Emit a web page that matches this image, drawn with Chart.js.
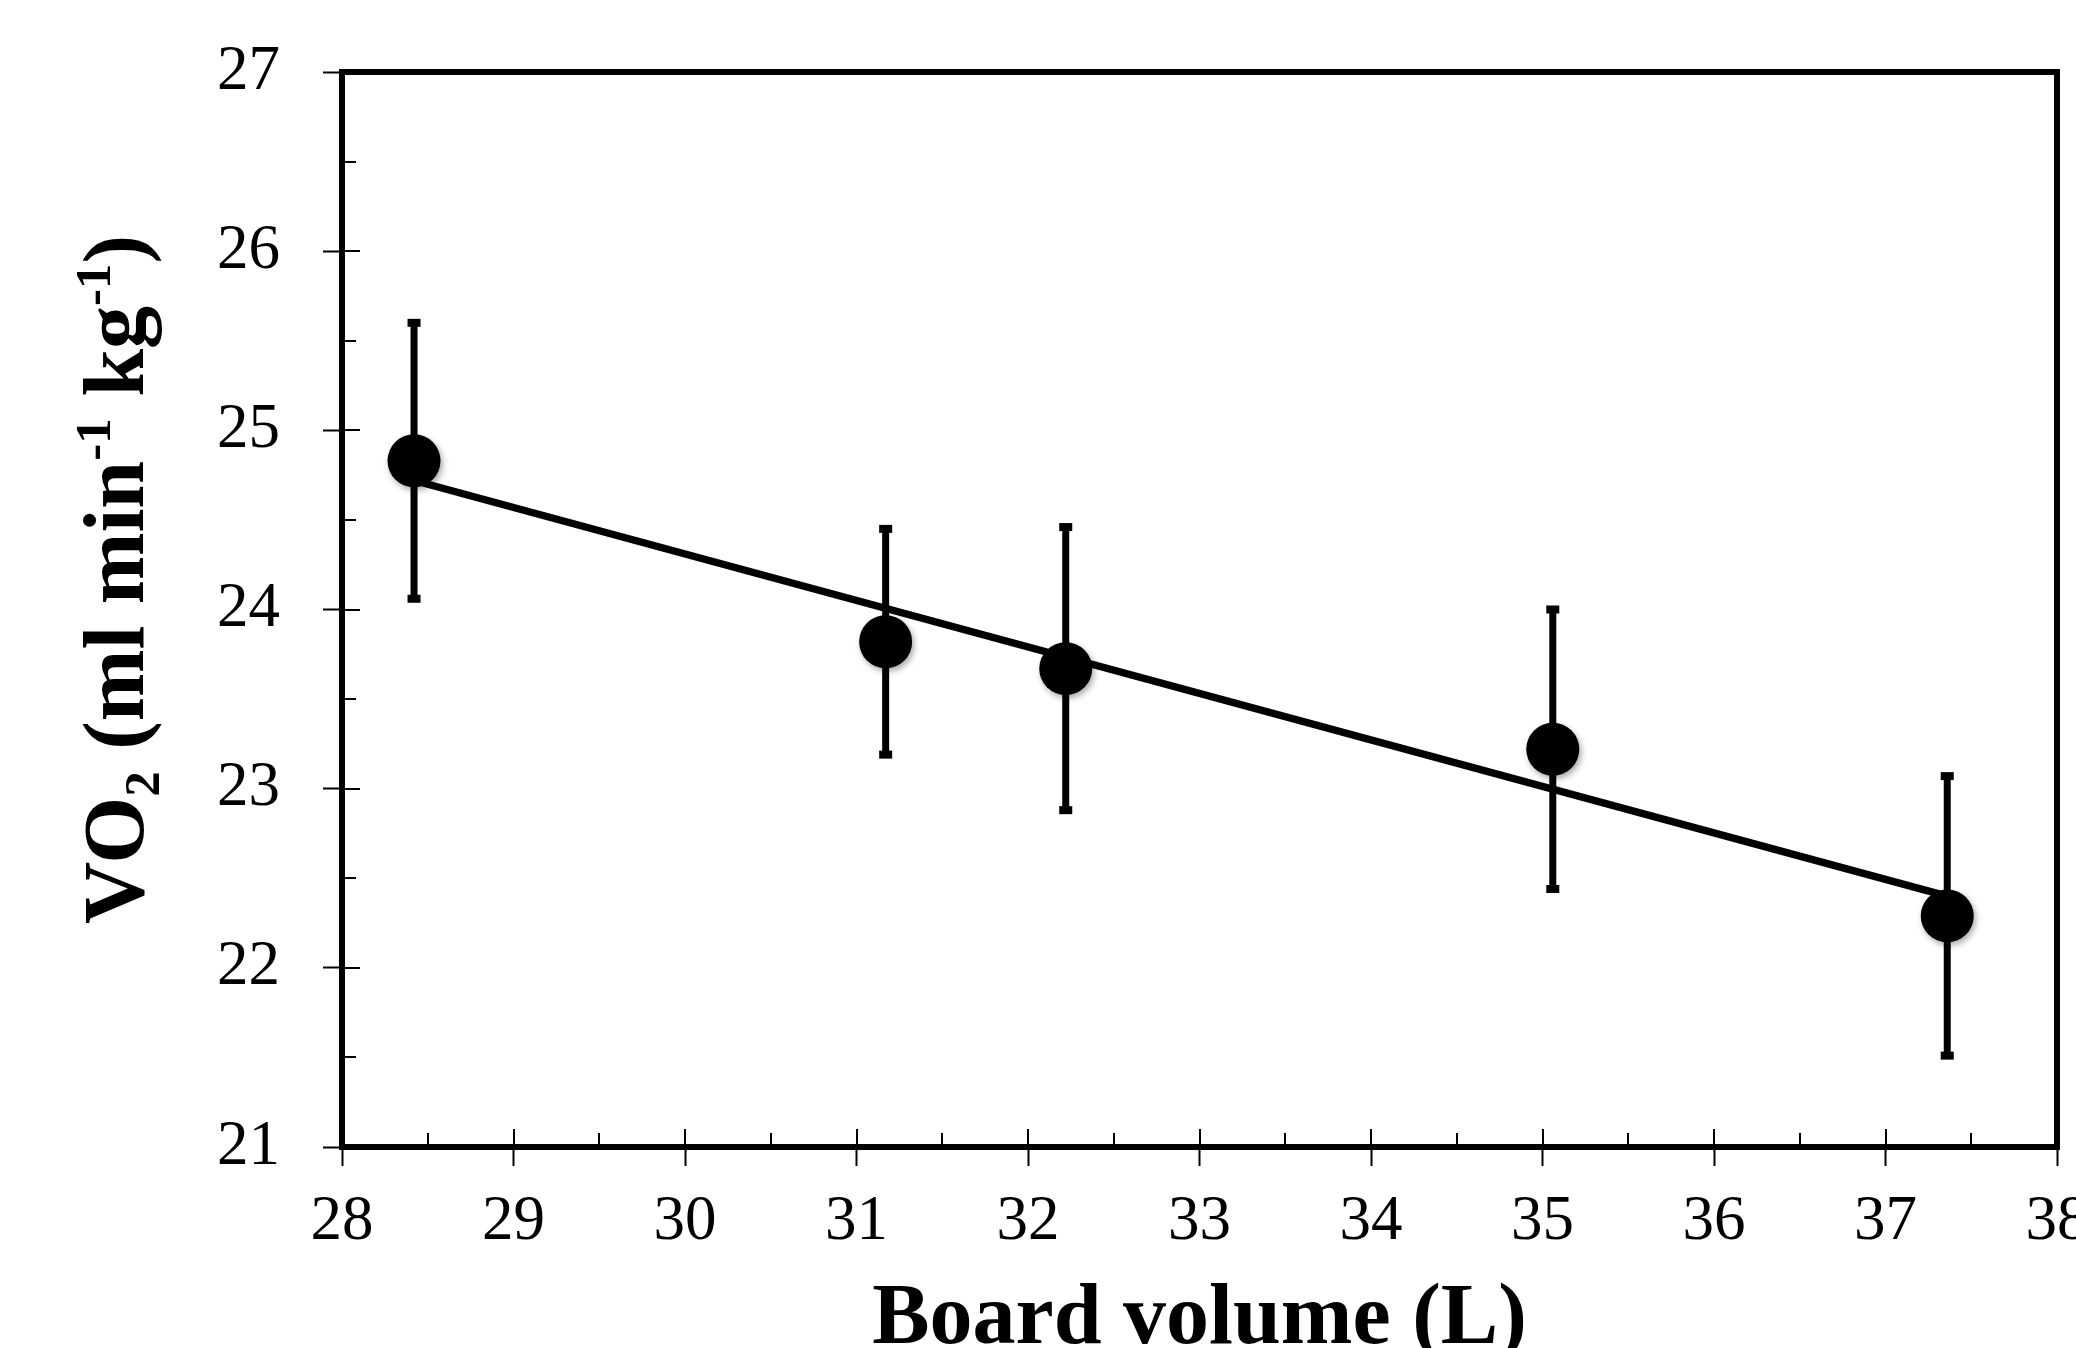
<!DOCTYPE html>
<html>
<head>
<meta charset="utf-8">
<title>VO2 vs board volume</title>
<script src="https://cdn.jsdelivr.net/npm/chart.js@4.4.0/dist/chart.umd.min.js"></script>
<style>
    html, body { margin: 0; padding: 0; background: #fff; }
    #wrap { width: 2076px; height: 1348px; }
</style>
</head>
<body>
<div id="wrap"><canvas id="vo2Chart" width="2076" height="1348"></canvas></div>
<script>
/* -------------------------------
   Data
--------------------------------*/
const boardVolume = [28.42, 31.17, 32.22, 35.06, 37.36];
const vo2Mean     = [24.83, 23.82, 23.67, 23.22, 22.29];
const vo2Sd       = [0.77, 0.63, 0.79, 0.78, 0.78];

// regression line, end points
const trendX = [28.42, 37.36];
const trendY = [24.72, 22.40];

const xTicks      = [28, 29, 30, 31, 32, 33, 34, 35, 36, 37, 38];
const xMinorTicks = [28.5, 29.5, 30.5, 31.5, 32.5, 33.5, 34.5, 35.5, 36.5, 37.5];
const yTicks      = [21, 22, 23, 24, 25, 26, 27];
const yMinorTicks = [21.5, 22.5, 23.5, 24.5, 25.5, 26.5];

const xTitle = "Board volume (L)";
// rich text pieces for the y title: [text, kind]
const yTitleParts = [
    ["VO", "n"], ["2", "sub"], [" (ml min", "n"], ["-1", "sup"],
    [" kg", "n"], ["-1", "sup"], [")", "n"]
];

const SERIF = "'Liberation Serif', 'Times New Roman', serif";

/* -------------------------------
   Plugin: error bars, frame, inner ticks, titles
--------------------------------*/
const figurePlugin = {
    id: "figurePlugin",

    beforeDatasetsDraw(chart) {
        const ctx = chart.ctx;
        const xs = chart.scales.x, ys = chart.scales.y;
        ctx.save();
        ctx.strokeStyle = "#000";
        ctx.fillStyle = "#000";
        ctx.lineWidth = 7;
        boardVolume.forEach((v, i) => {
            const px = xs.getPixelForValue(v);
            const top = ys.getPixelForValue(vo2Mean[i] + vo2Sd[i]);
            const bot = ys.getPixelForValue(vo2Mean[i] - vo2Sd[i]);
            ctx.beginPath();
            ctx.moveTo(px, top);
            ctx.lineTo(px, bot);
            ctx.stroke();
            ctx.fillRect(px - 6.5, top - 4, 13, 8);
            ctx.fillRect(px - 6.5, bot - 4, 13, 8);
        });
        ctx.restore();
    },

    beforeDatasetDraw(chart, args) {
        chart.ctx.save();
        if (args.index === 0) {
            // soft drop shadow under the markers
            chart.ctx.shadowColor = "rgba(0,0,0,0.35)";
            chart.ctx.shadowBlur = 6;
            chart.ctx.shadowOffsetX = 2;
            chart.ctx.shadowOffsetY = 3;
        }
    },

    afterDatasetDraw(chart) {
        chart.ctx.restore();
    },

    afterDraw(chart) {
        const ctx = chart.ctx;
        const a = chart.chartArea;
        const xs = chart.scales.x, ys = chart.scales.y;

        ctx.save();
        ctx.strokeStyle = "#000";

        // inner tick marks
        ctx.lineWidth = 2;
        ctx.beginPath();
        xTicks.forEach(v => {
            const p = Math.round(xs.getPixelForValue(v));
            ctx.moveTo(p, a.bottom); ctx.lineTo(p, a.bottom - 18);
        });
        xMinorTicks.forEach(v => {
            const p = Math.round(xs.getPixelForValue(v));
            ctx.moveTo(p, a.bottom); ctx.lineTo(p, a.bottom - 14);
        });
        yTicks.forEach(v => {
            const p = Math.round(ys.getPixelForValue(v));
            ctx.moveTo(a.left, p); ctx.lineTo(a.left + 18, p);
        });
        yMinorTicks.forEach(v => {
            const p = Math.round(ys.getPixelForValue(v));
            ctx.moveTo(a.left, p); ctx.lineTo(a.left + 14, p);
        });
        ctx.stroke();

        // plot frame
        ctx.lineWidth = 6;
        ctx.lineJoin = "miter";
        ctx.strokeRect(a.left, a.top, a.right - a.left, a.bottom - a.top);

        // x title
        ctx.fillStyle = "#000";
        ctx.font = "bold 86px " + SERIF;
        ctx.textAlign = "center";
        ctx.textBaseline = "alphabetic";
        ctx.fillText(xTitle, (a.left + a.right) / 2, 1343);

        // y title, rotated, with sub/superscripts
        const big = 86, small = 51;
        const fontFor = k => "bold " + (k === "n" ? big : small) + "px " + SERIF;
        let total = 0;
        yTitleParts.forEach(([t, k]) => {
            ctx.font = fontFor(k);
            total += ctx.measureText(t).width;
        });
        ctx.translate(143, (a.top + a.bottom) / 2 - 30);
        ctx.rotate(-Math.PI / 2);
        ctx.textAlign = "left";
        let x = -total / 2;
        yTitleParts.forEach(([t, k]) => {
            ctx.font = fontFor(k);
            const dy = k === "sub" ? 16 : (k === "sup" ? -33 : 0);
            ctx.fillText(t, x, dy);
            x += ctx.measureText(t).width;
        });
        ctx.restore();
    }
};

/* -------------------------------
   Chart
--------------------------------*/
Chart.defaults.font.family = SERIF;
Chart.defaults.color = "#000";

const tickFont = { family: SERIF, size: 63 };

new Chart(document.getElementById("vo2Chart").getContext("2d"), {
    type: "scatter",
    data: {
        datasets: [
            {
                label: "VO2",
                order: 0,
                data: boardVolume.map((v, i) => ({ x: v, y: vo2Mean[i] })),
                pointRadius: 26.5,
                pointBackgroundColor: "#000",
                pointBorderWidth: 0,
                showLine: false
            },
            {
                label: "Trend",
                order: 1,
                data: trendX.map((v, i) => ({ x: v, y: trendY[i] })),
                showLine: true,
                borderColor: "#000",
                borderWidth: 7.5,
                pointRadius: 0,
                fill: false
            }
        ]
    },
    options: {
        responsive: false,
        devicePixelRatio: 1,
        animation: false,
        layout: { autoPadding: false, padding: { top: 72, right: 19, bottom: 0, left: 0 } },
        plugins: {
            legend: { display: false },
            tooltip: { enabled: false }
        },
        scales: {
            x: {
                type: "linear",
                min: 28,
                max: 38,
                afterBuildTicks: s => { s.ticks = xTicks.map(v => ({ value: v })); },
                afterFit: s => { s.height = 201; s.paddingRight = 0; s.paddingLeft = 0; },
                grid: { drawOnChartArea: false, drawTicks: true, tickLength: 19, tickWidth: 2, tickColor: "#000" },
                border: { display: false },
                ticks: { font: tickFont, color: "#000", padding: 19, maxRotation: 0, autoSkip: false }
            },
            y: {
                type: "linear",
                min: 21,
                max: 27,
                afterBuildTicks: s => { s.ticks = yTicks.map(v => ({ value: v })); },
                afterFit: s => { s.width = 342; s.paddingTop = 0; s.paddingBottom = 0; },
                grid: { drawOnChartArea: false, drawTicks: true, tickLength: 19, tickWidth: 2, tickColor: "#000" },
                border: { display: false },
                ticks: { font: tickFont, color: "#000", padding: 43, autoSkip: false }
            }
        }
    },
    plugins: [figurePlugin]
});
</script>
</body>
</html>
